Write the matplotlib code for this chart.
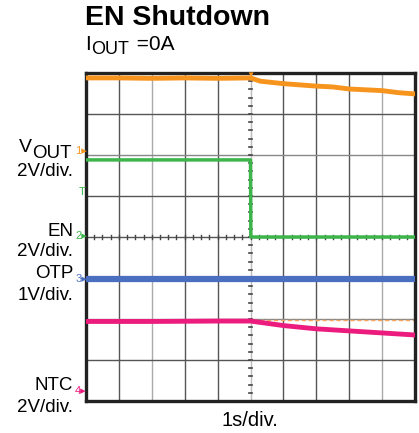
import matplotlib
matplotlib.use("Agg")
import matplotlib.pyplot as plt
import numpy as np

plt.rcParams['font.family'] = ['Liberation Sans', 'DejaVu Sans']

# time in divisions (1 s/div), voltage in divisions from bottom
vout_t = [0, 1, 2, 3, 4, 5, 5.3, 6, 7, 7.5, 8, 9, 9.5, 10]
vout_v = [7.88, 7.88, 7.87, 7.88, 7.87, 7.88, 7.80, 7.74, 7.68, 7.66, 7.61, 7.57, 7.52, 7.49]
en_t = [0, 4.99, 5.0, 5.01, 10]
en_v = [5.88, 5.88, 5.88, 4.0, 4.0]
otp_t = [0, 10]
otp_v = [2.98, 2.98]
ntc_t = [0, 2, 4, 5, 6, 7, 8, 9, 10]
ntc_v = [1.94, 1.94, 1.95, 1.95, 1.84, 1.76, 1.71, 1.66, 1.61]
ref_t = [0, 10]
ref_v = [1.97, 1.97]

W, H = 419, 433
fig = plt.figure(figsize=(W/100, H/100), dpi=100)
L, R, T, B = 86, 415, 73, 401
ax = fig.add_axes([L/W, 1-B/H, (R-L)/W, (B-T)/H])
ax.set_xlim(0, 10)
ax.set_ylim(0, 8)
ax.set_xticks([]); ax.set_yticks([])
for s in ax.spines.values():
    s.set_linewidth(2.4); s.set_color('#222222')

for i in range(1, 10):
    if i == 5:
        continue
    c = '#aaaaaa' if i in (2, 9) else '#555555'
    ax.axvline(i, color=c, lw=1.0, zorder=1)
for j in range(1, 8):
    if j == 4:
        continue
    c = '#888888' if j in (2, 6) else '#555555'
    ax.axhline(j, color=c, lw=1.0, zorder=1)
# center axes with minor ticks
ax.axhline(4, color='#555555', lw=1.0, zorder=1)
ax.axvline(5, color='#bbbbbb', lw=1.0, zorder=1)
for k in np.arange(0, 10.01, 0.25):
    ax.plot([k, k], [3.94, 4.06], color='#444444', lw=1, zorder=1)
for k in np.arange(0, 8.01, 0.2):
    ax.plot([4.95, 5.05], [k, k], color='#444444', lw=1.2, zorder=1)

ax.plot(ref_t, ref_v, color='#f7a35c', lw=1, ls=(0, (3, 2)), zorder=2)
ax.plot(vout_t, vout_v, color='#f7941d', lw=3.5, zorder=3)
ax.plot(en_t, en_v, color='#3db54a', lw=2.5, zorder=3)
ax.plot(otp_t, otp_v, color='#4a6fc1', lw=4.5, zorder=3)
ax.plot(ntc_t, ntc_v, color='#ec1c7e', lw=3.5, zorder=4)

def px(x, y, s, **kw):
    return fig.text(x/W, 1-y/H, s, **kw)

px(85, 18, 'EN Shutdown', fontsize=20.5, fontweight='bold', va='center', ha='left')
px(85, 44, 'I', fontsize=15, va='center', ha='left')
px(91, 49, 'OUT', fontsize=13, va='center', ha='left')
px(131, 44, ' =0A', fontsize=15, va='center', ha='left')

lab = dict(fontsize=13.5, ha='right', va='center')
px(32, 148, 'V', fontsize=14, ha='right', va='center')
px(72, 154, 'OUT', fontsize=13.5, ha='right', va='center')
px(73, 171, '2V/div.', **lab)
px(73, 231, 'EN', **lab)
px(73, 252, '2V/div.', **lab)
px(73, 273, 'OTP', **lab)
px(73, 295, '1V/div.', **lab)
px(73, 386, 'NTC', **lab)
px(73, 408, '2V/div.', **lab)
px(250, 420, '1s/div.', fontsize=14.5, ha='center', va='center')

# channel markers
mk = dict(fontsize=8, ha='center', va='center')
px(81, 151, '1▸', color='#f7941d', **mk)
px(82, 192, 'T', color='#3db54a', **mk)
px(81, 236, '2▸', color='#3db54a', **mk)
px(81, 279, '3▸', color='#4a6fc1', **mk)
px(81, 391, '4▸', color='#ec1c7e', **mk)
px(250, 75, '▼', color='#f7941d', fontsize=6, ha='center', va='center')

fig.savefig('out.png', dpi=100)
